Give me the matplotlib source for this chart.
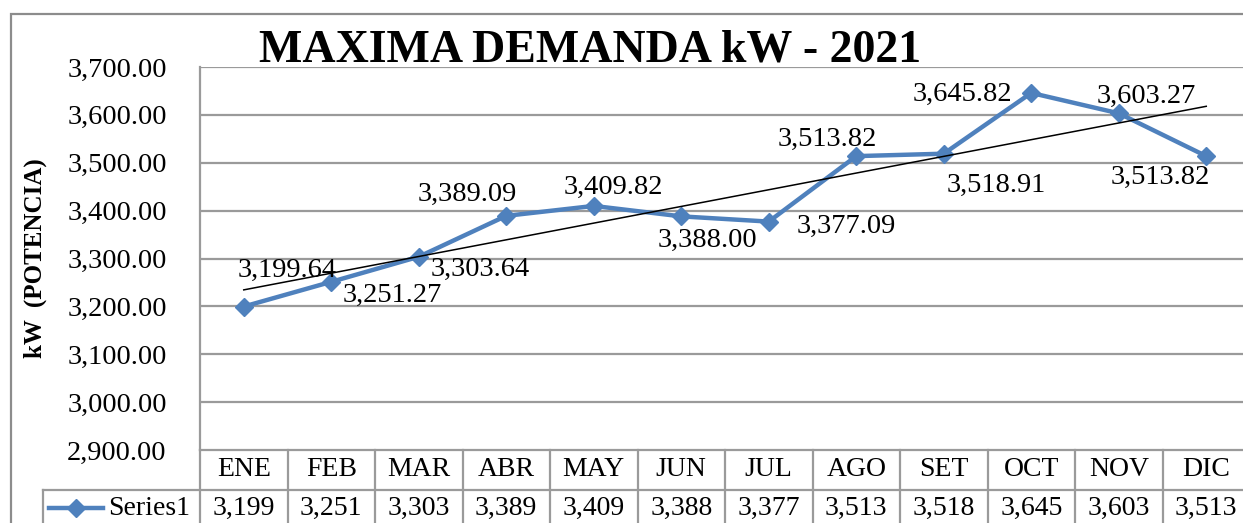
import numpy as np
import matplotlib
matplotlib.use("Agg")
import matplotlib.pyplot as plt
from matplotlib.lines import Line2D
from matplotlib.patches import Rectangle

months = ["ENE", "FEB", "MAR", "ABR", "MAY", "JUN", "JUL", "AGO", "SET", "OCT", "NOV", "DIC"]
demand = [3199.64, 3251.27, 3303.64, 3389.09, 3409.82, 3388.00, 3377.09,
          3513.82, 3518.91, 3645.82, 3603.27, 3513.82]
series_name = "Series1"
title = "MAXIMA DEMANDA kW - 2021"
ylabel = "kW  (POTENCIA)"
yticks = [2900, 3000, 3100, 3200, 3300, 3400, 3500, 3600, 3700]

# label offsets (pixels) for each data label
label_offsets = [(43, 36), (61, -14), (62, -13), (-39, 21), (20, 19), (26, -24),
                 (77, -5), (-29, 17), (52, -32), (-69, -1), (28, 17), (-46, -21)]

W, H = 1243, 523
plt.rcParams['font.family'] = ['Liberation Serif', 'DejaVu Serif']
fig = plt.figure(figsize=(W / 100, H / 100), dpi=100)
fig.patch.set_facecolor('white')

left_px, right_px, top_px, bot_px = 200, 1250, 67, 450
ax = fig.add_axes([left_px / W, 1 - bot_px / H, (right_px - left_px) / W, (bot_px - top_px) / H])
ax.patch.set_alpha(0)

grid_col = '#9a9a9a'
x = np.arange(len(months))
ax.set_xlim(-0.5, len(months) - 0.5)
ax.set_ylim(yticks[0], yticks[-1])
ax.set_yticks(yticks)
ax.set_yticklabels([f"{v:,.2f}" for v in yticks], fontsize=20.5)
ax.tick_params(axis='y', length=0, pad=24)
ax.set_xticks([])
for yv in yticks[1:]:
    ax.axhline(yv, color=grid_col, lw=1.6, zorder=0)
for s in ['right', 'top']:
    ax.spines[s].set_visible(False)
ax.spines['left'].set_color(grid_col)
ax.spines['left'].set_linewidth(1.6)
ax.spines['bottom'].set_color(grid_col)
ax.spines['bottom'].set_linewidth(1.6)

blue = '#4F81BD'
ax.plot(x, demand, color=blue, lw=3.2, marker='D', markersize=9, zorder=3, clip_on=False)

coef = np.polyfit(x, demand, 1)
ax.plot(x, np.polyval(coef, x), color='black', lw=1.1, zorder=4, clip_on=False)

for xi, v, (dx, dy) in zip(x, demand, label_offsets):
    ax.annotate(f"{v:,.2f}", (xi, v), xytext=(dx, dy), textcoords='offset pixels',
                ha='center', va='center', fontsize=20.5, zorder=5)

fig.text(590 / W, 1 - 50 / H, title, ha='center', va='center', fontsize=33,
         fontweight='bold')
fig.text(35 / W, 1 - 258 / H, ylabel, ha='center', va='center', rotation=90,
         fontsize=18, fontweight='bold')

# data table below the axis
ah = bot_px - top_px
aw = right_px - left_px
r1 = -40 / ah
r2 = -80 / ah
lab_left = (43 - left_px) / aw
tcol = grid_col
for k in range(len(months) + 1):
    ax.plot([k - 0.5, k - 0.5], [0, r2], transform=ax.get_xaxis_transform(),
            color=tcol, lw=1.6, clip_on=False)
ax.plot([lab_left, 1.0], [r1, r1], transform=ax.transAxes, color=tcol, lw=1.6, clip_on=False)
ax.plot([lab_left, lab_left], [r1, r2], transform=ax.transAxes, color=tcol, lw=1.6, clip_on=False)
for xi, m, v in zip(x, months, demand):
    ax.text(xi, r1 / 2, m, transform=ax.get_xaxis_transform(), ha='center', va='center', fontsize=20)
    ax.text(xi, (r1 + r2) / 2 + 0.005, f"{int(v):,}", transform=ax.get_xaxis_transform(),
            ha='center', va='center', fontsize=20)

# legend key in the table
ky = (r1 + r2) / 2 + 0.005
kx0 = (49 - left_px) / aw
kx1 = (103 - left_px) / aw
ax.add_line(Line2D([kx0, kx1], [ky, ky], transform=ax.transAxes, color=blue, lw=3.2, clip_on=False))
ax.add_line(Line2D([(kx0 + kx1) / 2], [ky], transform=ax.transAxes, color=blue, marker='D',
                   markersize=9, clip_on=False))
ax.text((108 - left_px) / aw, ky, series_name, transform=ax.transAxes, ha='left', va='center', fontsize=20)

# outer chart frame
fig.add_artist(Rectangle((11 / W, -0.1), 1.2, 1 - 14 / H + 0.1, transform=fig.transFigure,
                         fill=False, edgecolor='#8c8c8c', lw=1.6))

fig.savefig("out.png", dpi=100)
